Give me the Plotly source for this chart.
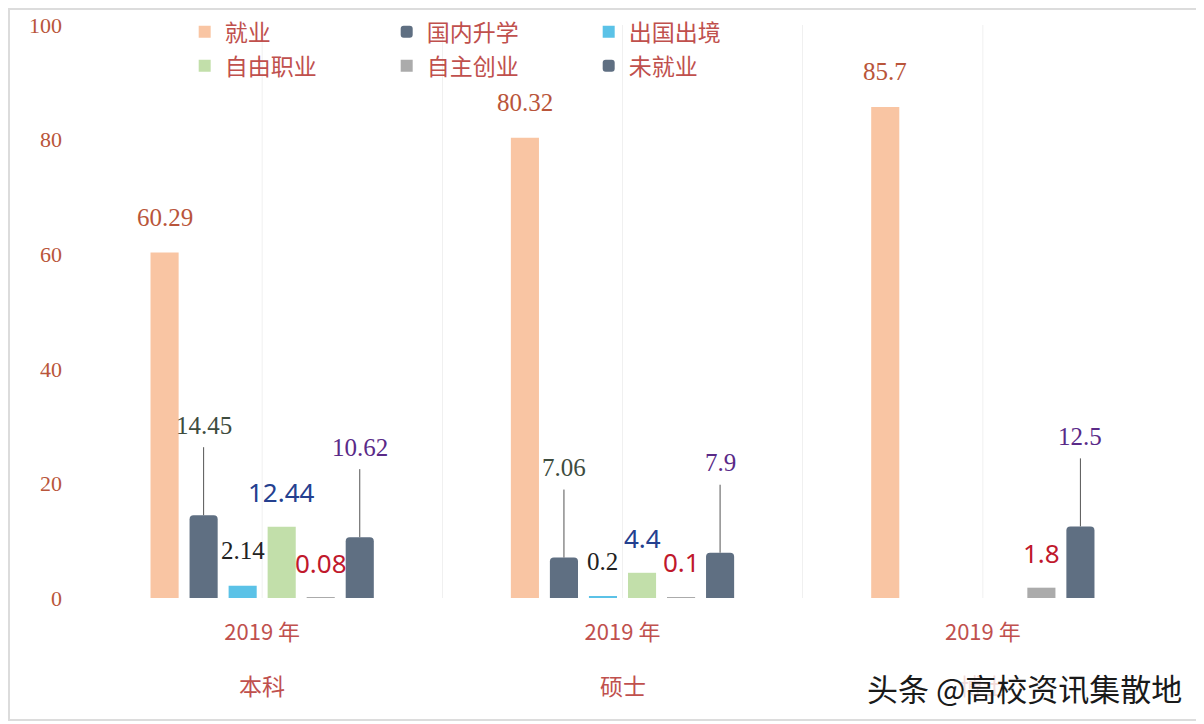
import plotly.graph_objects as go

# ---------------- data ----------------
groups = ["本科", "硕士", "博士"]
year_label = "2019 年"
series_names = ["就业", "国内升学", "出国出境", "自由职业", "自主创业", "未就业"]
v_jiuye = [60.29, 80.32, 85.7]
v_shengxue = [14.45, 7.06, None]
v_chuguo = [2.14, 0.2, None]
v_ziyou = [12.44, 4.4, None]
v_chuangye = [0.08, 0.1, 1.8]
v_weijiuye = [10.62, 7.9, 12.5]
y_ticks = [0, 20, 40, 60, 80, 100]
watermark = "头条 @高校资讯集散地"

series_values = [v_jiuye, v_shengxue, v_chuguo, v_ziyou, v_chuangye, v_weijiuye]

# ---------------- style ----------------
bar_colors = ["#F9C5A3", "#5F6F82", "#5BC2E7", "#C2DFAA", "#ABABAB", "#5F6F82"]
label_colors = ["#B9553A", "#3E4C3E", "#222222", "#24408F", "#C0182C", "#5A2A88"]
label_fonts = ["Liberation Serif", "Liberation Serif", "Liberation Serif",
               "Noto Sans", "Noto Sans", "Liberation Serif"]
label_sizes = [25, 25, 25, 26, 26, 25]
leader = [False, True, False, False, False, True]
corner = [0, 4, 0, 0, 0, 4]
text_red = "#C0504D"
cjk = "Noto Sans CJK SC"

# page body has an 8px margin: figure is sized/offset to compensate
W, H = 1196, 716
ml, mr, mt, mb = 74, 41, 17, 126
bargap, bargroupgap = 0.35, 0.28
plot_w = W - ml - mr
plot_h = H - mt - mb
slot = plot_w / len(groups) * (1 - bargap) / len(series_names)

fig = go.Figure()
for i, (name, vals) in enumerate(zip(series_names, series_values)):
    fig.add_trace(go.Bar(
        x=groups, y=vals, name=name,
        marker=dict(color=bar_colors[i], line=dict(width=0), cornerradius=corner[i]),
        legend="legend" if i < 3 else "legend2",
        hoverinfo="skip",
    ))

annotations = []
for i, vals in enumerate(series_values):
    xs = (i - (len(series_names) - 1) / 2) * slot
    for g, v in zip(groups, vals):
        if v is None:
            continue
        font = dict(family=label_fonts[i], size=label_sizes[i], color=label_colors[i])
        if leader[i]:
            annotations.append(dict(
                x=g, y=v, xref="x", yref="y", text=f"{v:g}", font=font,
                showarrow=True, arrowhead=0, arrowwidth=1, arrowcolor="#555555",
                ax=0, ay=-90, xshift=xs, borderpad=8,
            ))
        else:
            annotations.append(dict(
                x=g, y=v, xref="x", yref="y", text=f"{v:g}", font=font,
                showarrow=False, xshift=xs, yshift=35, yanchor="middle",
            ))

# outer category labels
for g in groups:
    annotations.append(dict(
        x=g, y=-(87 / plot_h), xref="x", yref="paper", text=g,
        showarrow=False, yanchor="middle",
        font=dict(family=cjk, size=23, color=text_red),
    ))

# watermark
annotations.append(dict(
    x=(1176 - ml) / plot_w, y=(H - mb - 679) / plot_h, xref="paper", yref="paper",
    xanchor="right", yanchor="middle", text=watermark, showarrow=False,
    font=dict(family=cjk, size=31, color="#1A1A1A"),
    bgcolor="rgba(255,255,255,0.8)",
))

shapes = [dict(type="line", xref="x", yref="paper", x0=g, x1=g, y0=0, y1=1,
               line=dict(color="#F0F0F0", width=1), layer="below") for g in groups]
shapes.append(dict(type="rect", xref="paper", yref="paper",
                   x0=-(ml - 1) / plot_w, x1=1 + (mr - 4) / plot_w,
                   y0=-(mb - 4) / plot_h, y1=1 + (mt - 1) / plot_h,
                   line=dict(color="#DCDCDC", width=2), layer="below"))

legend_common = dict(
    orientation="h", xanchor="left", yanchor="middle",
    font=dict(family=cjk, size=23, color=text_red),
    bgcolor="rgba(0,0,0,0)", entrywidth=157, entrywidthmode="pixels",
    itemclick=False, itemdoubleclick=False, traceorder="normal",
)

fig.update_layout(
    width=W, height=H,
    margin=dict(l=ml, r=mr, t=mt, b=mb, autoexpand=False),
    paper_bgcolor="white", plot_bgcolor="white",
    barmode="group", bargap=bargap, bargroupgap=bargroupgap,
    showlegend=True,
    legend=dict(x=0.095, y=0.988, **legend_common),
    legend2=dict(x=0.095, y=0.929, **legend_common),
    xaxis=dict(
        type="category", categoryorder="array", categoryarray=groups,
        tickmode="array", tickvals=groups, ticktext=[year_label] * len(groups),
        tickfont=dict(family=cjk, size=22, color=text_red),
        tickson="boundaries", ticks="", showgrid=True, gridcolor="#F0F0F0",
        showline=False, zeroline=False, ticklabelstandoff=19,
    ),
    yaxis=dict(
        range=[0, 100], tickvals=y_ticks, showgrid=False, zeroline=False,
        showline=False, ticks="",
        tickfont=dict(family="Liberation Serif", size=22, color="#B9553A"),
        ticklabelstandoff=19,
    ),
    annotations=annotations,
    shapes=shapes,
)

fig.write_html("out.html")
